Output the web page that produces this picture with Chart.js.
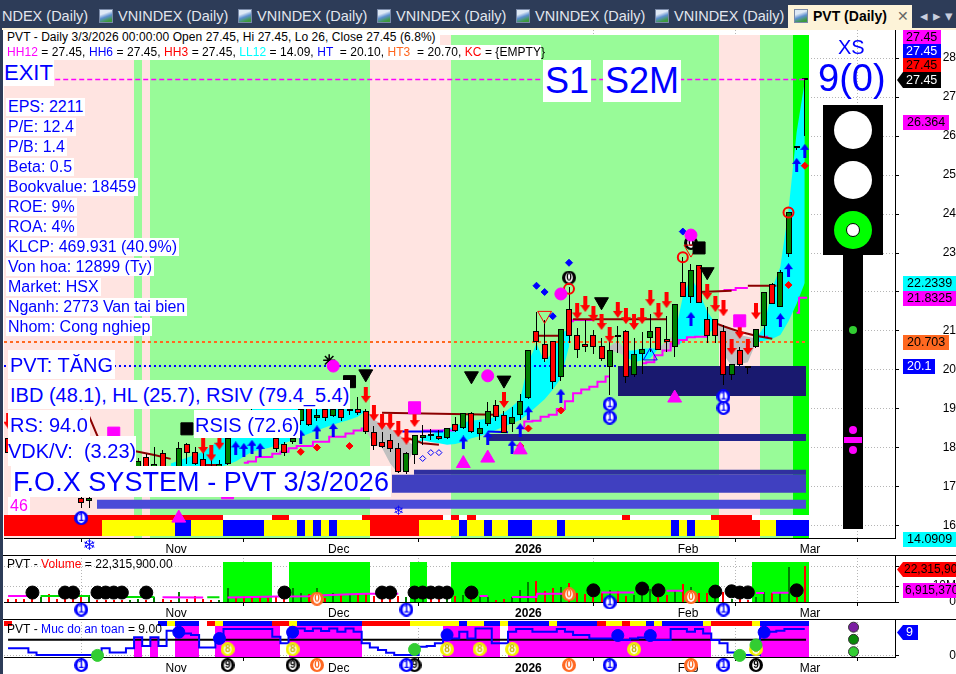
<!DOCTYPE html>
<html>
<head>
<meta charset="utf-8">
<title>PVT (Daily)</title>
<script src="https://cdn.jsdelivr.net/npm/chart.js@4/dist/chart.umd.min.js"></script>
<style>
  html, body { margin: 0; padding: 0; width: 956px; height: 674px; overflow: hidden; background: #2d3c58; font-family: "Liberation Sans", Arial, sans-serif; }
  #page { position: absolute; left: 3px; top: 30px; width: 953px; height: 644px; background: #fff; }
  canvas { position: absolute; left: 4px; }
  .abs { position: absolute; white-space: pre; }
  .tab { position: absolute; top: 8px; font-size: 14.5px; line-height: 17px; color: #e2e6ee; white-space: pre; }
  .icon { position: absolute; top: 9px; width: 14px; height: 14px; background: linear-gradient(160deg, #dfe9f5 30%, #5d8fd0 55%, #3d9a3d 85%); border: 1px solid #7a8aa8; box-sizing: border-box; }
  .lbl { position: absolute; background: #fff; color: #00f; white-space: pre; }
  .info { font-size: 16px; line-height: 18px; height: 18px; }
  .big { font-size: 20px; }
  .tag { position: absolute; left: 903px; height: 15px; line-height: 15px; font-size: 12.5px; padding-left: 4px; box-sizing: border-box; color: #000; white-space: pre; overflow: hidden; }
  .arrowtag { left: 897px; padding-left: 9px; clip-path: polygon(0 50%, 6px 0, 100% 0, 100% 100%, 6px 100%); }
  .line { position: absolute; background: #000; height: 1px; }
  .light { position: absolute; left: 834px; width: 38px; height: 38px; border-radius: 50%; background: #fff; }
  .dot { position: absolute; width: 8px; height: 8px; border-radius: 50%; }
  .hdr { font-size: 12px; line-height: 15px; color: #000; background: #fff; letter-spacing: 0.06px; }
</style>
</head>
<body>
<div class="tab" style="left:2px">NDEX (Daily)</div>
<div class="icon" style="left:99px"></div><div class="tab" style="left:118px">VNINDEX (Daily)</div>
<div class="icon" style="left:238px"></div><div class="tab" style="left:257px">VNINDEX (Daily)</div>
<div class="icon" style="left:377px"></div><div class="tab" style="left:396px">VNINDEX (Daily)</div>
<div class="icon" style="left:516px"></div><div class="tab" style="left:535px">VNINDEX (Daily)</div>
<div class="icon" style="left:655px"></div><div class="tab" style="left:674px">VNINDEX (Daily)</div>
<div class="abs" style="left:788px;top:5px;width:124px;height:24px;background:#fdf3d8"></div>
<div class="icon" style="left:794px"></div>
<div class="tab" style="left:813px;color:#000;font-weight:bold;font-size:14px">PVT (Daily)</div>
<div class="tab" style="left:897px;color:#666;font-size:14px">✕</div>
<div class="tab" style="left:920px;color:#c8cede">◂</div>
<div class="tab" style="left:933px;color:#c8cede">▸</div>
<div class="tab" style="left:945px;color:#c8cede">▾</div>
<div class="abs" style="left:2px;top:28px;width:954px;height:2px;background:#fdf3d8"></div>
<div id="page"></div>

<canvas id="mainChart" width="952" height="525" style="top:30px"></canvas>
<canvas id="volChart" width="952" height="64" style="top:555px"></canvas>
<canvas id="safeChart" width="952" height="55" style="top:619px"></canvas>

<div class="line" style="left:3px;top:555px;width:953px"></div>
<div class="line" style="left:3px;top:619px;width:953px"></div>

<div class="abs hdr" style="left:3px;top:30px;width:437px;height:15px;padding-left:4px;box-sizing:border-box">PVT - Daily 3/3/2026 00:00:00 Open 27.45, Hi 27.45, Lo 26, Close 27.45 (6.8%)</div>
<div class="abs hdr" style="left:3px;top:45px;width:538px;height:15px;padding-left:4px;box-sizing:border-box"><span style="color:#f0f">HH12</span> = 27.45, <span style="color:#00f">HH6</span> = 27.45, <span style="color:#f00">HH3</span> = 27.45, <span style="color:#0ff">LL12</span> = 14.09, <span style="color:#00f">HT </span> = 20.10, <span style="color:#ff6820">HT3 </span> = 20.70, <span style="color:#f00">KC</span> = {EMPTY}</div>

<div class="lbl" style="left:3px;top:60px;height:26px;line-height:26px;font-size:22px;padding:0 1px">EXIT</div>
<div class="lbl" style="left:543px;top:60px;height:42px;line-height:42px;font-size:36px;padding:0 2px">S1</div>
<div class="lbl" style="left:603px;top:60px;height:42px;line-height:42px;font-size:36px;padding:0 2px">S2M</div>

<div class="lbl info" style="left:6px;top:98px;padding:0 2px">EPS: 2211</div>
<div class="lbl info" style="left:6px;top:118px;padding:0 2px">P/E: 12.4</div>
<div class="lbl info" style="left:6px;top:138px;padding:0 2px">P/B: 1.4</div>
<div class="lbl info" style="left:6px;top:158px;padding:0 2px">Beta: 0.5</div>
<div class="lbl info" style="left:6px;top:178px;padding:0 2px">Bookvalue: 18459</div>
<div class="lbl info" style="left:6px;top:198px;padding:0 2px">ROE: 9%</div>
<div class="lbl info" style="left:6px;top:218px;padding:0 2px">ROA: 4%</div>
<div class="lbl info" style="left:6px;top:238px;padding:0 2px">KLCP: 469.931 (40.9%)</div>
<div class="lbl info" style="left:6px;top:258px;padding:0 2px">Von hoa: 12899 (Ty)</div>
<div class="lbl info" style="left:6px;top:278px;padding:0 2px">Market: HSX</div>
<div class="lbl info" style="left:6px;top:298px;padding:0 2px;letter-spacing:-0.1px">Nganh: 2773 Van tai bien</div>
<div class="lbl info" style="left:6px;top:318px;padding:0 2px">Nhom: Cong nghiep</div>

<div class="lbl big" style="left:8px;top:350px;height:29px;line-height:31px;padding:0 2px">PVT: TĂNG</div>
<div class="lbl big" style="left:8px;top:380px;height:29px;line-height:31px;padding:0 1px 0 2px">IBD (48.1), HL (25.7), RSIV (79.4_5.4)</div>
<div class="lbl big" style="left:8px;top:410px;height:27px;line-height:31px;padding:0 2px">RS: 94.0</div>
<div class="lbl big" style="left:194px;top:410px;height:28px;line-height:31px;padding:0 1px">RSIS (72.6)</div>
<div class="lbl big" style="left:8px;top:436px;height:30px;line-height:30px">VDK/V:  (3.23)</div>
<div class="lbl" style="left:11px;top:466px;height:31px;line-height:33px;font-size:27px;letter-spacing:0.05px;padding:0 2px">F.O.X SYSTEM - PVT 3/3/2026</div>
<div class="lbl" style="left:8px;top:497px;height:18px;line-height:18px;font-size:16px;padding:0 2px;color:#f0f">46</div>

<div class="abs" style="left:83px;top:537px;font-size:15px;line-height:16px;color:#00f;font-family:'DejaVu Sans'">❄</div>
<div class="abs" style="left:393px;top:504px;font-size:13px;line-height:14px;color:#00f;font-family:'DejaVu Sans'">❄</div>

<div class="abs" style="left:838px;top:35px;font-size:20px;line-height:24px;color:#00f">XS</div>
<div class="abs" style="left:818px;top:56px;font-size:38px;line-height:44px;color:#00f">9(0)</div>

<div class="abs" style="left:823px;top:105px;width:60px;height:150px;background:#000"></div>
<div class="abs" style="left:843px;top:255px;width:20px;height:274px;background:#000"></div>
<div class="light" style="top:111px"></div>
<div class="light" style="top:161px"></div>
<div class="light" style="top:211px;background:#0f0"></div>
<div class="abs" style="left:846px;top:223px;width:14px;height:14px;border-radius:50%;background:#fff;border:1px solid #000;box-sizing:border-box"></div>
<div class="dot" style="left:849px;top:326px;background:#32cd32"></div>
<div class="dot" style="left:849px;top:426px;background:#f0f"></div>
<div class="abs" style="left:844px;top:437px;width:18px;height:6px;background:#f0f"></div>
<div class="dot" style="left:849px;top:446px;background:#f0f"></div>

<div class="tag" style="top:30px;width:38px;background:#f0f;padding-left:3px">27.45</div>
<div class="tag" style="top:44px;width:38px;background:#00f;color:#fff;padding-left:3px">27.45</div>
<div class="tag" style="top:58px;width:38px;background:#f00;padding-left:3px">27.45</div>
<div class="tag arrowtag" style="top:72px;width:44px;background:#000;color:#fff;height:16px;line-height:16px">27.45</div>
<div class="tag" style="top:115px;width:46px;background:#f0f">26.364</div>
<div class="tag" style="top:276px;width:53px;background:#0ff">22.2339</div>
<div class="tag" style="top:291px;width:53px;background:#f0f">21.8325</div>
<div class="tag" style="top:335px;width:46px;background:#ff6820">20.703</div>
<div class="tag" style="top:359px;width:32px;background:#00f;color:#fff">20.1</div>
<div class="tag" style="top:532px;width:53px;background:#0ff">14.0909</div>
<div class="tag arrowtag" style="top:562px;width:59px;background:#f00;font-size:12px;padding-left:7px">22,315,900</div>
<div class="tag" style="top:583px;width:53px;background:#f0f;font-size:12px;padding-left:2px">6,915,370</div>
<div class="tag arrowtag" style="top:625px;width:21px;background:#00f;color:#fff">9</div>

<div class="abs" style="left:7px;top:557px;font-size:12px;line-height:15px;letter-spacing:0.05px;color:#000">PVT - <span style="color:#f00">Volume</span> = 22,315,900.00</div>
<div class="abs" style="left:7px;top:622px;font-size:12px;line-height:15px;letter-spacing:0.05px;color:#000">PVT - <span style="color:#00f">Muc do an toan</span> = 9.00</div>

<script>
// ----------- DATA (index = trading bar, 0 is the first bar on screen) -----------
const monthTicks = [19, 39, 62, 82, 97];
const monthLabels = ['Nov', 'Dec', '2026', 'Feb', 'Mar'];

const opens = [18.25,17.9,17.6,17.4,17.3,17.6,17.6,17.3,17.1,16.72,16.64,17.3,17.5,17.6,17.5,17.6,17.4,17.76,17.45,17.86,17.4,17.5,18.09,17.89,17.71,17.5,17.45,17.59,18.3,18.6,18.8,18.6,18.75,18.25,18.1,18.14,18.69,19.06,18.76,19.0,18.82,19.0,18.94,19.0,18.95,18.4,18.15,18.2,18.0,17.39,17.82,18.25,18.36,18.3,18.25,18.61,18.5,18.89,18.35,18.61,19.09,18.84,18.61,18.84,19.29,21.0,20.67,20.74,19.83,21.56,20.89,20.67,20.89,20.61,20.08,20.84,21.0,19.88,20.4,20.83,21.1,20.8,20.6,22.26,21.88,22.68,21.3,21.3,21.0,19.88,20.51,20.09,20.6,21.14,22.2,21.62,22.97,25.69,27.45];
const highs = [18.4,18.0,17.8,17.6,17.5,17.8,17.7,17.4,17.3,16.85,16.75,17.6,17.7,17.8,17.7,17.7,17.75,17.85,18.03,17.95,17.5,18.14,18.12,18.03,17.9,17.7,17.7,18.4,18.8,18.9,19.0,18.85,18.85,18.4,18.15,18.6,19.2,19.1,19.0,19.1,19.1,19.1,19.36,19.3,19.0,18.55,18.4,18.35,18.12,17.9,18.34,18.59,18.48,18.46,18.5,18.8,18.9,18.93,18.67,19.17,19.23,18.95,19.06,19.38,20.51,21.48,21.28,20.74,21.05,22.14,21.07,21.28,21.03,20.81,20.85,21.13,21.02,20.81,20.98,21.44,21.1,21.38,21.69,22.89,22.73,22.68,21.61,21.3,21.15,20.15,20.6,20.11,21.05,22.0,22.22,22.56,24.05,25.72,27.45];
const lows = [17.8,17.5,17.3,17.1,17.0,17.4,17.2,17.0,16.9,16.45,16.45,17.2,17.3,17.4,17.4,17.4,17.3,17.3,17.3,17.4,17.3,17.4,17.6,17.56,17.3,17.3,17.3,17.55,18.26,18.5,18.6,18.5,18.3,17.9,17.8,18.1,18.6,18.55,18.7,18.7,18.8,18.7,18.85,18.85,18.35,17.95,17.99,17.9,17.35,17.32,17.6,18.08,18.2,18.2,18.24,18.42,18.48,18.38,18.2,18.55,18.68,18.39,18.42,18.72,19.25,20.51,20.21,19.51,19.72,20.7,20.31,20.46,20.41,20.24,19.36,20.44,19.67,19.83,19.9,20.47,20.5,20.47,20.32,21.86,21.71,21.71,20.7,20.7,19.62,19.74,20.11,19.9,20.56,20.85,21.68,21.62,22.9,25.65,26.0];
const closes = [17.88,17.6,17.4,17.2,17.1,17.5,17.3,17.1,16.95,16.6,16.71,17.5,17.4,17.5,17.6,17.45,17.67,17.45,17.6,17.5,17.45,17.99,17.86,17.59,17.45,17.4,17.6,18.25,18.6,18.8,18.6,18.75,18.5,17.97,17.86,18.25,19.0,18.59,18.85,18.76,19.0,18.76,19.0,18.89,18.4,18.06,18.03,17.97,17.39,17.86,18.34,18.34,18.31,18.24,18.5,18.44,18.89,18.4,18.5,18.94,18.8,18.39,18.8,19.2,20.51,20.73,20.29,19.69,21.05,20.88,20.5,20.6,20.6,20.29,20.51,20.84,19.83,20.41,20.55,21.0,20.5,20.73,21.69,21.88,22.56,21.73,20.87,20.88,19.88,20.15,20.14,20.04,21.05,22.0,21.68,22.51,24.05,25.69,27.45];

// background regime, colour runs [colour, bars]
const bgRuns = [['#ffe4e1',16],['#98fb98',1],['#ffe4e1',1],['#98fb98',27],['#ffe4e1',10],['#98fb98',33],['#ffe4e1',5],['#98fb98',4],['#00ff00',2]];
const stripTopRuns = [['#ff0000',27],['#ffffff',6],['#ff0000',2],['#ffffff',9],['#ff0000',10],['#ffffff',1],['#ff0000',1],['#ffffff',1],['#ff0000',1],['#ffffff',18],['#ff0000',1],['#ffffff',10],['#ff0000',5],['#ffffff',7]];
const stripMainRuns = [['#ff0000',12],['#ffff00',9],['#0000ff',2],['#ffff00',4],['#0000ff',5],['#ffff00',4],['#0000ff',1],['#ffff00',1],['#0000ff',1],['#ffff00',1],['#0000ff',1],['#ffff00',4],['#ff0000',6],['#ffff00',5],['#0000ff',1],['#ffff00',2],['#0000ff',1],['#ffff00',2],['#0000ff',3],['#ffff00',3],['#0000ff',1],['#ffff00',13],['#0000ff',1],['#ffff00',1],['#0000ff',1],['#ffff00',3],['#ff0000',5],['#ffff00',2],['#0000ff',4]];

// trend ribbons: [bar, top, bottom]; nulls break the ribbon
const cyanRibbon = [[20,17.6,17.3],[22,17.75,17.35],[24,17.9,17.4],[26,18.2,17.5],[28,18.8,17.65],[30,19.0,17.9],[32,19.0,18.0],[34,19.0,18.12],[36,19.0,18.29],[38,19.0,18.45],[40,19.0,18.6],[42,19.0,18.72],[43,18.98,18.8],[44,18.95,18.95],[45,null,null],
  [50,18.05,18.05],[51,18.3,18.2],[52,18.35,18.15],[53,18.45,18.12],[54,18.5,18.08],[55,18.55,18.1],[56,18.65,18.15],[57,18.7,18.25],[58,18.72,18.3],[59,18.75,18.38],[60,18.8,18.46],[61,18.9,18.55],[62,19.06,18.63],[63,19.25,18.72],[64,20.2,18.88],[65,20.68,19.06],[66,20.2,19.25],[67,20.47,19.49],[68,20.94,19.79],[69,21.05,20.6],[70,null,null],
  [76,20.5,20.35],[77,20.5,20.2],[78,20.55,20.25],[79,20.55,20.3],[80,20.55,20.55],[81,null,null],
  [82,20.9,20.6],[83,21.88,20.72],[84,22.4,20.85],[85,22.0,20.88],[86,21.5,20.9],[87,21.2,21.1],[88,null,null],
  [92,20.8,20.7],[93,21.1,20.75],[94,22.1,20.8],[95,22.65,20.9],[96,24.1,21.25],[97,26.1,21.7],[98,27.4,22.23]];
const grayRibbon = [[44,18.95,18.45],[45,18.72,18.1],[46,18.62,18.0],[47,18.5,17.6],[48,18.35,17.35],[49,18.2,17.5],[50,18.05,18.05],[51,null,null],
  [74,20.6,20.5],[75,20.75,20.45],[76,20.5,20.35],[77,null,null],
  [80,20.55,20.55],[81,20.75,20.45],[82,20.9,20.6],[83,null,null],
  [87,21.2,21.0],[88,21.15,20.4],[89,21.05,20.1],[90,20.9,20.15],[91,20.85,20.2],[92,20.8,20.7]];

// support / resistance lines, [bar, value]
const magentaLow = [[29,17.62],[30,17.65],[31,17.77],[32,17.77],[33,17.85],[34,17.9],[35,17.99],[36,18.05],[37,18.05],[38,18.16],[39,18.16],[40,18.29],[41,18.29],[42,18.37],[43,18.45],[44,18.5],[45,null],[51,18.45],[55,18.45],[56,null],[63,18.5],[64,18.68],[65,18.7],[66,18.8],[67,18.85],[68,19.0],[69,19.2],[70,19.4],[71,19.5],[72,19.57],[73,19.7],[74,19.83],[75,null],[78,20.17],[79,20.2],[80,20.38],[81,20.5],[82,20.68],[83,20.77],[84,20.84],[85,20.85],[86,20.85]];
const magentaHigh = [[69,21.25],[70,21.28],[72,21.28],[73,null],[88,22.05],[91,22.1],[92,null],[92.5,20.85],[93.5,20.85],[94,null],[97,21.47],[97.6,21.85],[98.3,21.85]];
const maroonHigh = [[46,18.9],[60,18.85],[61,null],[65,20.88],[68,20.88],[68.5,null],[69.5,21.3],[81,21.3],[82,null],[85,22.0],[89,22.03],[90,null],[91,22.16],[94.5,22.16]];
const maroonLow = [[9,18.97],[10,18.8],[11,18.3],[12,18.12],[14,17.98],[16,17.9],[18,17.82],[20,17.72],[21,null],[24,17.56],[26,17.56],[27,null],[49,18.25],[50,18.2],[51,18.12],[53,18.08],[54,null],[87,21.2],[88,21.12],[90,20.98],[92,20.88],[94,20.8]];
const bluePeg = [[14,17.6],[16,17.6],[17,null],[48.5,18.42],[53.5,18.42],[54,null],[59,18.42],[61.5,18.4]];

// price zones: from bar, to bar, high, low, colour
const zoneFrom = [10.94,47.22,49.93,59.03,75.03,89.04];
const zoneTo = [98.15,98.15,98.15,98.15,98.15,98.15];
const zoneHigh = [16.67,17.31,17.44,18.36,20.1,19.92];
const zoneLow = [16.44,16.85,17.31,18.18,19.33,19.59];
const zoneColor = ['#4b4bd8','#4040c0','#30309f','#22228a','#19196f','#14146a'];

// signal markers
const redArrowX = [0,24,25,26,44,45,46,47,48,49,50,61,70,71,72,73,74,75,76,77,78,79,80,81,86,87,88,89,90,91,92];
const redArrowY = [18.7,18.05,17.86,18.16,19.36,18.89,18.67,18.67,18.48,18.29,18.74,19.23,21.5,21.69,21.44,21.23,20.9,21.54,21.38,21.23,21.38,21.84,21.5,21.79,22.0,21.69,21.58,20.59,21.0,20.59,21.5];
const blueArrowX = [28,29,30,31,36,38,40,56,59,62,63,64,68,84,95,96,97,98];
const blueArrowY = [17.99,17.95,18.03,17.95,18.29,18.4,18.46,18.14,18.25,18.03,18.46,18.89,19.34,21.31,21.28,22.56,25.26,25.62];
const blackTriX = [44,57,61,73,86];
const blackTriY = [19.9,19.85,19.74,21.75,22.52];
const magentaDotX = [40,59,68,84];
const magentaDotY = [20.1,19.85,21.95,23.46];
const magentaSquareX = [13,27,50,90];
const magentaSquareY = [18.38,16.85,19.03,21.26];
const magentaTriX = [21,56,59,63,82];
const magentaTriY = [16.2,17.6,17.74,17.95,19.28];
const blackSquareX = [22,42,85];
const blackSquareY = [18.49,19.7,23.13];
const redDiamondX = [36,38,42,63,64,68,96,98];
const redDiamondY = [17.9,18.01,18.05,18.05,18.5,18.96,22.18,25.24];
const blueDiamondX = [65,66,67,69,83];
const blueDiamondY = [22.16,22.0,21.38,22.75,23.55];
const redRingX = [69,83,96];
const redRingY = [22.08,22.89,24.04];
const redOpenTriX = [66,84];
const redOpenTriY = [21.4,23.1];
const blueOpenTriX = [79];
const blueOpenTriY = [20.36];
const blackBadgeX = [69,84];
const blackBadgeY = [22.37,23.26];
const blueBadgeX = [9,74,74,88,88];
const blueBadgeY = [16.2,19.12,18.78,19.32,19.03];
const starX = [39.5];
const starY = [20.25];
const smallDiamondX = [51,52,53];
const smallDiamondY = [17.73,17.88,17.88];
const htLevel = 20.1, ht3Level = 20.72, closeLevel = 27.45;

// volume pane, millions of shares
const volume = [1.9,1.9,1.9,1.9,3.1,5,1.9,2.5,1.9,3.1,4.4,1.2,1.2,1.2,1.2,1.2,1.9,1.2,3.1,1.9,1.2,6.3,1.9,3.8,1.9,1.2,1.2,8.8,2.5,3.8,3.1,3.8,2.5,3.8,1.9,8.8,5.6,5,8.8,2.5,5.6,4.4,5,4.4,5,3.8,2.5,1.9,3.8,3.1,6.3,3.8,3.1,1.9,3.8,3.8,4.4,3.8,3.8,3.1,1.2,1.9,3.1,7.5,12.5,13.1,6.9,8.8,9.4,11.9,5.6,5,3.1,5.6,7.5,6.9,3.8,4.4,8.8,8.1,3.1,4.4,7.5,11.3,9.4,5.6,5.6,2.5,6.3,1.9,1.9,1.2,3.1,6.3,5.6,5.6,21.9,3.1,22.3159];
const volumeUpBars = [4,10,15,16,18,21,26,27,35,36,38,40,42,49,50,51,54,56,58,59,62,63,64,68,74,77,78,79,82,84,87,89,92,93,95,96];
const volumeBlockRuns = [[null,27],['#00ff00',6],[null,2],['#00ff00',10],[null,5],['#00ff00',2],[null,3],['#00ff00',33],[null,4],['#00ff00',7]];
const volMaMagenta = [[0,3.8],[3,3.8],[3.1,null],[19,3],[24,2.8],[24.1,null],[27,2.8],[33,3.4],[37,3.6],[38,4],[44,5.2],[48,5.2],[48.1,null],[58,3.8],[59,3.8],[59.1,null],[62,3.1],[65,3.1],[65.1,5.2],[69,5.2],[69.1,null],[73,6],[77,6],[77.1,null],[81,7],[83,7],[83.1,null],[92,5.6],[93,5.6],[93.1,null],[94,5.8],[96,5.8]];
const volMaGreen = [[4,3.8],[10,3.8],[10.1,null],[14,3.2],[18,3.2],[18.1,null],[24.5,3],[26,3]];
const volDotX = [3,7,8,11,12,13,14,17,34,46,47,50,51,52,53,54,57,72,78,80,87,89,90,91,97];
const volDotY = [5.9,5.9,5.9,5.9,5.9,5.9,5.9,5.9,5.9,5.9,5.9,5.9,5.9,5.9,5.9,5.9,5.9,7.3,8.4,7.3,6.5,6.7,5.9,6,7.3];
const volOrangeX = [38,69,84];
const volOrangeY = [2.1,4.8,3.1];
const volBlueX = [9,49,74,88];
const volBlueY = [-4.7,-4.7,-0.2,-4.7];
const volTicks = [0,10,22.3159];

// safety pane
const safety = [2.5,2.5,2.5,1.1,0.2,0.2,0.2,0.2,0.2,0.2,0.2,1.1,2.5,1.1,1.1,2.5,6.2,3.3,6.2,3.3,8.4,8.4,7.5,7,2.8,2.8,5.8,9,9,9,9,9,9,6.4,4.2,8.6,9.2,8.3,9.2,8.3,9.2,8.1,9.2,8.1,4.2,2.8,1.9,1,0.2,0.2,0.2,3,3.3,4.2,6.4,5.8,8.1,5.8,9.2,9.2,4.2,4.2,8.1,9,9,8.1,8.1,8.1,9,8.1,7,7,5.8,5.8,5.8,5.8,5.3,5.8,6.1,6.1,5.3,5.3,9,9,8.1,9,7.5,5.3,4.2,1.1,0.2,0.2,0.2,7.5,8.1,8.4,9,9,9];
const safetyBlockRuns = [[null,21],['#ff00ff',3],[null,2],['#ff00ff',8],[null,1],['#ff00ff',9],[null,10],['#ff00ff',7],[null,1],['#ff00ff',25],[null,6],['#ff00ff',6]];
const safetyLowBlockX = [16,18];
const safetyStripRuns = [['#ff0000',1],[null,18],['#0000ff',1],['#ffff00',1],['#0000ff',3],[null,1],['#ff0000',1],['#ffff00',1],['#0000ff',6],['#ff0000',2],['#ffff00',1],['#0000ff',8],['#ff0000',6],['#ffff00',6],['#0000ff',1],['#ffff00',2],['#0000ff',2],['#ffff00',1],['#0000ff',5],['#ffff00',1],['#0000ff',5],['#ff0000',1],['#ffff00',2],['#ff0000',1],['#ffff00',2],['#0000ff',1],['#ffff00',1],['#0000ff',5],['#ffff00',1],['#ff0000',5],['#ffff00',1],['#0000ff',6]];
const safetyLevel = 5.4;
const safeBlueX = [21,26,35,54,75,79,93];
const safeBlueY = [7.9,5.8,7.9,7,6.8,6.8,7.9];
const safeGreenX = [11,50,90,92];
const safeGreenY = [0.1,2.1,0.1,3.6];
const safeYellowX = [27,35,54,58,62,77,92];
const safeYellowY = [2.2,2.2,2.2,2.2,2.2,2.2,2.2];
const safeBlueBadgeX = [9,49,74,88];
const safeBlackBadgeX = [27,35,50,92];
const safeOrangeBadgeX = [38,69,84];
const safeRowY = -3.14;
const safeLegendX = [104,104,104];
const safeLegendY = [9.6,5.5,1.35];
const safeLegendColor = ['#7b1fa2','#0a8a0a','#32cd32'];

// ----------- HELPERS -----------
function xy(xs, ys) {
  return xs.map((x, i) => ({ x: x, y: ys[i] }));
}
function pairs(list) {
  return list.map(p => ({ x: p[0], y: p[1] }));
}
// expands [colour, bars] runs to one floating bar per trading bar
function runBars(runs, lo, hi, order) {
  const data = [], colors = [];
  let bar = 0;
  runs.forEach(r => {
    for (let k = 0; k < r[1]; k++) {
      if (r[0]) {
        data.push({ x: bar, y: [lo, hi] });
        colors.push(r[0]);
      }
      bar++;
    }
  });
  return { type: 'bar', data: data, backgroundColor: colors, grouped: false, barPercentage: 1, categoryPercentage: 1, inflateAmount: 0, borderWidth: 0, order: order };
}
function lineSet(list, color, width, order, extra) {
  return Object.assign({ type: 'line', data: pairs(list), borderColor: color, borderWidth: width, pointRadius: 0, fill: false, tension: 0, order: order }, extra || {});
}
function markers(xs, ys, style, radius, color, extra) {
  return Object.assign({ type: 'line', data: xy(xs, ys), showLine: false, pointStyle: style, pointRadius: radius, pointBackgroundColor: color, pointBorderColor: color, pointBorderWidth: 1, clip: false, order: 10 }, extra || {});
}
function ribbon(list, color, order) {
  const top = list.map(p => ({ x: p[0], y: p[1] }));
  const bottom = list.map(p => ({ x: p[0], y: p[2] }));
  return [
    { type: 'line', data: top, borderWidth: 0, pointRadius: 0, backgroundColor: color, fill: '+1', order: order, tension: 0 },
    { type: 'line', data: bottom, borderWidth: 0, pointRadius: 0, fill: false, order: order, tension: 0 }
  ];
}
function arrowIcon(color, w, h, up) {
  const c = document.createElement('canvas');
  c.width = w;
  c.height = h;
  const g = c.getContext('2d');
  const head = Math.round(h * 0.45), s = Math.round(w / 2) - 2;
  g.fillStyle = color;
  g.beginPath();
  g.moveTo(w / 2, 0);
  g.lineTo(w, head);
  g.lineTo(w - s, head);
  g.lineTo(w - s, h);
  g.lineTo(s, h);
  g.lineTo(s, head);
  g.lineTo(0, head);
  g.closePath();
  g.fill();
  if (up) return c;
  const f = document.createElement('canvas');
  f.width = w;
  f.height = h;
  const g2 = f.getContext('2d');
  g2.translate(0, h);
  g2.scale(1, -1);
  g2.drawImage(c, 0, 0);
  return f;
}
function badgeIcon(text, ring, digit) {
  const c = document.createElement('canvas');
  c.width = 14;
  c.height = 14;
  const g = c.getContext('2d');
  g.fillStyle = ring;
  g.beginPath();
  g.arc(7, 7, 7, 0, Math.PI * 2);
  g.fill();
  g.fillStyle = '#fff';
  g.beginPath();
  g.ellipse(7, 7, 3.8, 5, 0, 0, Math.PI * 2);
  g.fill();
  g.fillStyle = digit;
  g.font = 'bold 10px "Liberation Sans"';
  g.textAlign = 'center';
  g.textBaseline = 'middle';
  g.fillText(text, 7, 7.5);
  return c;
}

const redArrow = arrowIcon('#ff0000', 10, 16, false);
const blueArrow = arrowIcon('#0000ff', 9, 14, true);
const badgeBlue1 = badgeIcon('1', '#0000ff', '#0000ff');
const badgeBlack0 = badgeIcon('0', '#000000', '#000000');
const badgeBlack9 = badgeIcon('9', '#000000', '#000000');
const badgeOrange0 = badgeIcon('0', '#ff6820', '#ff6820');
const badgeYellow8 = badgeIcon('8', '#f2f200', '#c9b400');

// makes the bars land on whole pixels, like the original renderer
const snapBars = {
  id: 'snapBars',
  afterDatasetsUpdate(chart) {
    chart.getSortedVisibleDatasetMetas().forEach(meta => {
      if (meta.type !== 'bar') return;
      meta.data.forEach(el => {
        const l = Math.round(el.x - el.width / 2);
        let r = Math.round(el.x + el.width / 2);
        if (r <= l) r = l + 1;
        el.x = (l + r) / 2;
        el.width = r - l;
        el.y = Math.round(el.y);
        el.base = Math.round(el.base);
        if (el.y === el.base) el.y = el.base - 1;
      });
    });
  }
};

const X_MIN = -0.5, X_MAX = 109.1;
const GRID_DOT = '#b5b5b5';

// the axes are placed by hand, so no label padding may eat into the plot
function noPadding(scale) {
  scale.paddingLeft = 0;
  scale.paddingRight = 0;
  scale.paddingTop = 0;
  scale.paddingBottom = 0;
}

function xAxis() {
  return {
    type: 'linear', min: X_MIN, max: X_MAX, offset: false,
    afterBuildTicks(scale) { scale.ticks = monthTicks.map(v => ({ value: v })); },
    afterFit(scale) { scale.height = 17; noPadding(scale); },
    grid: { color: GRID_DOT, tickColor: '#000', tickLength: 4, tickBorderDash: [] },
    border: { color: '#000', width: 1, dash: [1, 2] },
    ticks: {
      autoSkip: false, maxRotation: 0, align: 'start', labelOffset: 3, padding: 0, color: '#000',
      font: ctx => ({ family: '"Liberation Sans"', size: 12, weight: ctx.tick && ctx.tick.label === '2026' ? 'bold' : 'normal' }),
      callback: v => monthLabels[monthTicks.indexOf(v)]
    }
  };
}
function yAxis(min, max, extra, tickExtra) {
  return Object.assign({
    type: 'linear', position: 'right', min: min, max: max,
    afterFit(scale) { scale.width = 61; noPadding(scale); },
    grid: { color: GRID_DOT, tickColor: '#000', tickLength: 4, tickBorderDash: [] },
    border: { color: '#000', width: 1, dash: [1, 2] },
    ticks: Object.assign({ color: '#000', crossAlign: 'far', font: { family: '"Liberation Sans"', size: 12 }, includeBounds: false }, tickExtra)
  }, extra || {});
}
function baseOptions(scales) {
  return {
    responsive: false, animation: false, events: [],
    layout: { padding: 0, autoPadding: false },
    plugins: { legend: { display: false }, tooltip: { enabled: false } },
    scales: scales
  };
}

// ----------- MAIN PRICE PANE -----------
const wickBars = opens.map((_, i) => ({ x: i, y: [lows[i], highs[i]] }));
const bodyBars = opens.map((o, i) => ({ x: i, y: [Math.min(o, closes[i]), Math.max(o, closes[i])] }));
const bodyColors = opens.map((o, i) => closes[i] >= o ? '#008000' : '#ff0000');

const zoneSets = zoneFrom.map((from, i) => ({
  type: 'line',
  data: [{ x: from, y: zoneHigh[i] }, { x: zoneTo[i], y: zoneHigh[i] }],
  borderWidth: 0, pointRadius: 0, backgroundColor: zoneColor[i],
  fill: { value: zoneLow[i] }, order: 80
}));

const mainChart = new Chart(document.getElementById('mainChart'), {
  type: 'bar',
  plugins: [snapBars],
  data: {
    datasets: [
      runBars(bgRuns, 15.69, 28.59, 100),
      ...ribbon(cyanRibbon, '#00ffff', 90),
      ...ribbon(grayRibbon, '#c0c0c0', 90),
      runBars(stripTopRuns, 16.15, 16.28, 85),
      runBars(stripMainRuns, 15.74, 16.15, 85),
      ...zoneSets,
      lineSet([[-0.5, htLevel], [75, htLevel]], '#0000ff', 2, 70, { borderDash: [2, 3] }),
      lineSet([[-0.5, ht3Level], [98.15, ht3Level]], '#ff6820', 2, 70, { borderDash: [3, 3] }),
      lineSet([[5.8, closeLevel], [98.15, closeLevel]], '#ff00ff', 1.5, 30, { borderDash: [5, 3] }),
      lineSet(magentaLow, '#ff00ff', 2, 65, { stepped: 'middle' }),
      lineSet(magentaHigh, '#ff00ff', 2, 65, { stepped: 'middle' }),
      lineSet(maroonHigh, '#8b0000', 2, 64),
      lineSet(maroonLow, '#8b0000', 2, 64),
      lineSet(bluePeg, '#0000ff', 2, 64),
      { type: 'bar', data: wickBars, backgroundColor: '#000', barThickness: 1, grouped: false, inflateAmount: 0, borderWidth: 0, order: 60 },
      { type: 'bar', data: bodyBars, backgroundColor: bodyColors, borderColor: '#000', borderWidth: 1, borderSkipped: false, barThickness: 6, minBarLength: 2, grouped: false, inflateAmount: 0, order: 50 },
      markers(blackTriX, blackTriY, 'triangle', 8, '#000', { pointRotation: 180 }),
      markers(magentaDotX, magentaDotY, 'circle', 6, '#ff00ff'),
      markers(magentaSquareX, magentaSquareY, 'rect', 8.5, '#ff00ff'),
      markers(magentaTriX, magentaTriY, 'triangle', 8, '#ff00ff'),
      markers(blackSquareX, blackSquareY, 'rect', 8.5, '#000'),
      markers(redDiamondX, redDiamondY, 'rectRot', 3.5, '#ff0000'),
      markers(blueDiamondX, blueDiamondY, 'rectRot', 3.5, '#0000ff'),
      markers(smallDiamondX, smallDiamondY, 'rectRot', 3, 'transparent', { pointBorderColor: '#0000ff' }),
      markers(redRingX, redRingY, 'circle', 5, 'transparent', { pointBorderColor: '#ff0000', pointBorderWidth: 2 }),
      markers(redOpenTriX, redOpenTriY, 'triangle', 8, 'transparent', { pointBorderColor: '#ff0000', pointRotation: 180 }),
      markers(blueOpenTriX, blueOpenTriY, 'triangle', 8, 'transparent', { pointBorderColor: '#0000ff' }),
      markers(starX, starY, 'star', 6, '#000', { pointBorderWidth: 1.5 }),
      markers(redArrowX, redArrowY, redArrow, 40, '#ff0000'),
      markers(blueArrowX, blueArrowY, blueArrow, 40, '#0000ff'),
      markers(blackBadgeX, blackBadgeY, badgeBlack0, 40, '#000'),
      markers(blueBadgeX, blueBadgeY, badgeBlue1, 40, '#00f')
    ]
  },
  options: baseOptions({ x: xAxis(), y: yAxis(15.69, 28.72, null, { stepSize: 1, padding: 40 }) })
});

// ----------- VOLUME PANE -----------
const volUp = [], volDown = [];
volume.forEach((v, i) => {
  (volumeUpBars.includes(i) ? volUp : volDown).push({ x: i, y: v });
});
const volChart = new Chart(document.getElementById('volChart'), {
  type: 'bar',
  plugins: [snapBars],
  data: {
    datasets: [
      runBars(volumeBlockRuns, 0, 24.8, 100),
      lineSet(volMaMagenta, '#ff00ff', 2, 40),
      lineSet(volMaGreen, '#00e000', 2, 40),
      { type: 'bar', data: volDown, backgroundColor: '#ff0000', barThickness: 2, grouped: false, inflateAmount: 0, borderWidth: 0, order: 50 },
      { type: 'bar', data: volUp, backgroundColor: '#008000', barThickness: 2, grouped: false, inflateAmount: 0, borderWidth: 0, order: 50 },
      markers(volDotX, volDotY, 'circle', 6.5, '#000'),
      markers(volOrangeX, volOrangeY, badgeOrange0, 40, '#ff6820'),
      markers(volBlueX, volBlueY, badgeBlue1, 40, '#00f')
    ]
  },
  options: baseOptions({
    x: xAxis(),
    y: yAxis(0, 29.4, {
      afterBuildTicks(scale) { scale.ticks = volTicks.map(v => ({ value: v })); }
    }, { padding: 32, autoSkip: false, callback: v => v === 0 ? '0' : v === 10 ? '10M' : '' })
  })
});

// ----------- SAFETY PANE -----------
const safeBadges = xs => xs.map(() => safeRowY);
const safeChart = new Chart(document.getElementById('safeChart'), {
  type: 'bar',
  plugins: [snapBars],
  data: {
    datasets: [
      runBars(safetyBlockRuns, -0.44, 10, 100),
      { type: 'bar', data: safetyLowBlockX.map(x => ({ x: x, y: [-0.44, 6.3] })), backgroundColor: '#ff00ff', grouped: false, barPercentage: 1, categoryPercentage: 1, inflateAmount: 0, borderWidth: 0, order: 100 },
      runBars(safetyStripRuns, 10, 11.8, 95),
      lineSet([[0, safetyLevel], [98.15, safetyLevel]], '#000', 2, 70),
      { type: 'line', data: safety.map((v, i) => ({ x: i, y: v })), borderColor: '#0000ff', borderWidth: 2, stepped: 'middle', pointRadius: 0, fill: false, order: 60 },
      markers(safeBlueX, safeBlueY, 'circle', 6, '#0000ff'),
      markers(safeGreenX, safeGreenY, 'circle', 6, '#32cd32'),
      markers(safeYellowX, safeYellowY, badgeYellow8, 40, '#ff0'),
      markers(safeBlueBadgeX, safeBadges(safeBlueBadgeX), badgeBlue1, 40, '#00f'),
      markers(safeBlackBadgeX, safeBadges(safeBlackBadgeX), badgeBlack9, 40, '#000'),
      markers(safeOrangeBadgeX, safeBadges(safeOrangeBadgeX), badgeOrange0, 40, '#ff6820'),
      markers(safeLegendX, safeLegendY, 'circle', 5, safeLegendColor, { pointBorderColor: '#333' })
    ]
  },
  options: baseOptions({
    x: xAxis(),
    y: yAxis(-0.44, 12.36, {
      afterBuildTicks(scale) { scale.ticks = [{ value: 0 }]; }
    }, { padding: 44, autoSkip: false })
  })
});
</script>
</body>
</html>
